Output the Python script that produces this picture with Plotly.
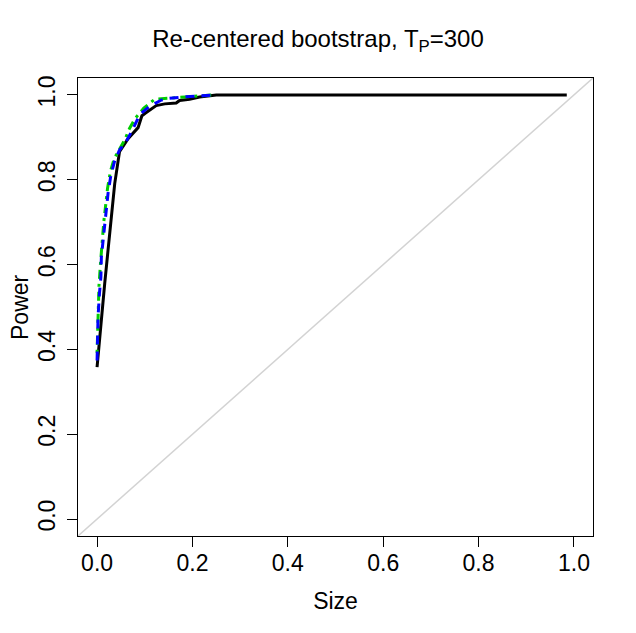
import plotly.graph_objects as go

# size/power pairs
size_black = [0, 0.009, 0.016, 0.023, 0.030, 0.037, 0.047, 0.065, 0.086, 0.094, 0.101,
              0.117, 0.124, 0.142, 0.166, 0.173, 0.194, 0.215, 0.243, 0.25, 0.985]
power_black = [0.358, 0.476, 0.555, 0.634, 0.713, 0.791, 0.866, 0.897, 0.923, 0.951, 0.957,
               0.969, 0.975, 0.979, 0.981, 0.987, 0.990, 0.995, 0.998, 1.0, 1.0]

size_green = [0, 0.002, 0.004, 0.007, 0.010, 0.014, 0.018, 0.022, 0.028, 0.036, 0.047,
              0.058, 0.068, 0.080, 0.098, 0.121, 0.170, 0.198, 0.243]
power_green = [0.392, 0.49, 0.55, 0.60, 0.65, 0.70, 0.74, 0.78, 0.82, 0.85, 0.872,
               0.894, 0.921, 0.945, 0.969, 0.990, 0.994, 0.996, 1.0]

size_blue = [0, 0.002, 0.005, 0.008, 0.009, 0.012, 0.016, 0.019, 0.023, 0.029, 0.037,
             0.047, 0.061, 0.072, 0.086, 0.093, 0.110, 0.135, 0.152, 0.177, 0.215, 0.243]
power_blue = [0.374, 0.476, 0.532, 0.571, 0.618, 0.650, 0.689, 0.724, 0.768, 0.811, 0.845,
              0.870, 0.890, 0.913, 0.945, 0.957, 0.973, 0.988, 0.992, 0.995, 0.998, 1.0]

axis_range = [-0.04, 1.04]
tick_vals = [0, 0.2, 0.4, 0.6, 0.8, 1.0]
tick_text = ["0.0", "0.2", "0.4", "0.6", "0.8", "1.0"]

font = "Liberation Sans, Arial, sans-serif"

fig = go.Figure()
# 45 degree reference line
fig.add_trace(go.Scatter(x=axis_range, y=axis_range, mode="lines",
                         line=dict(color="#d3d3d3", width=1.5)))
fig.add_trace(go.Scatter(x=size_black, y=power_black, mode="lines",
                         line=dict(color="black", width=3)))
fig.add_trace(go.Scatter(x=size_green, y=power_green, mode="lines",
                         line=dict(color="#00cd00", width=3, dash="3px,5px,9px,5px")))
fig.add_trace(go.Scatter(x=size_blue, y=power_blue, mode="lines",
                         line=dict(color="#0000ff", width=3, dash="9px,7px")))

axis_common = dict(range=axis_range, tickvals=tick_vals, ticktext=tick_text,
                   showgrid=False, zeroline=False, showline=True, mirror=True,
                   linecolor="black", linewidth=1, ticks="outside", ticklen=10,
                   tickcolor="black", tickfont=dict(size=23, color="black"),
                   automargin=False)

# y label as an annotation so it can sit near the page edge like R's mtext
fig.add_annotation(text="Power", xref="paper", yref="paper", x=0, y=0.5,
                   xanchor="center", yanchor="middle", xshift=-58, textangle=-90,
                   showarrow=False, font=dict(size=23, color="black"))

# page has an 8px body margin, so the figure is a bit smaller than the window
fig.update_layout(
    width=620, height=617,
    margin=dict(l=70, r=35, t=70, b=89),
    paper_bgcolor="white", plot_bgcolor="white",
    font=dict(family=font, color="black"),
    showlegend=False,
    title=dict(text="Re-centered bootstrap, T<sub>P</sub>=300", x=0.5, xanchor="center",
               y=0.95, yanchor="middle", font=dict(size=24)),
    xaxis=dict(**axis_common, title=dict(text="Size", font=dict(size=23), standoff=18),
               ticklabelstandoff=-4),
    yaxis=dict(**axis_common, tickangle=-90, ticklabelstandoff=3),
)

fig.write_html("out.html")
